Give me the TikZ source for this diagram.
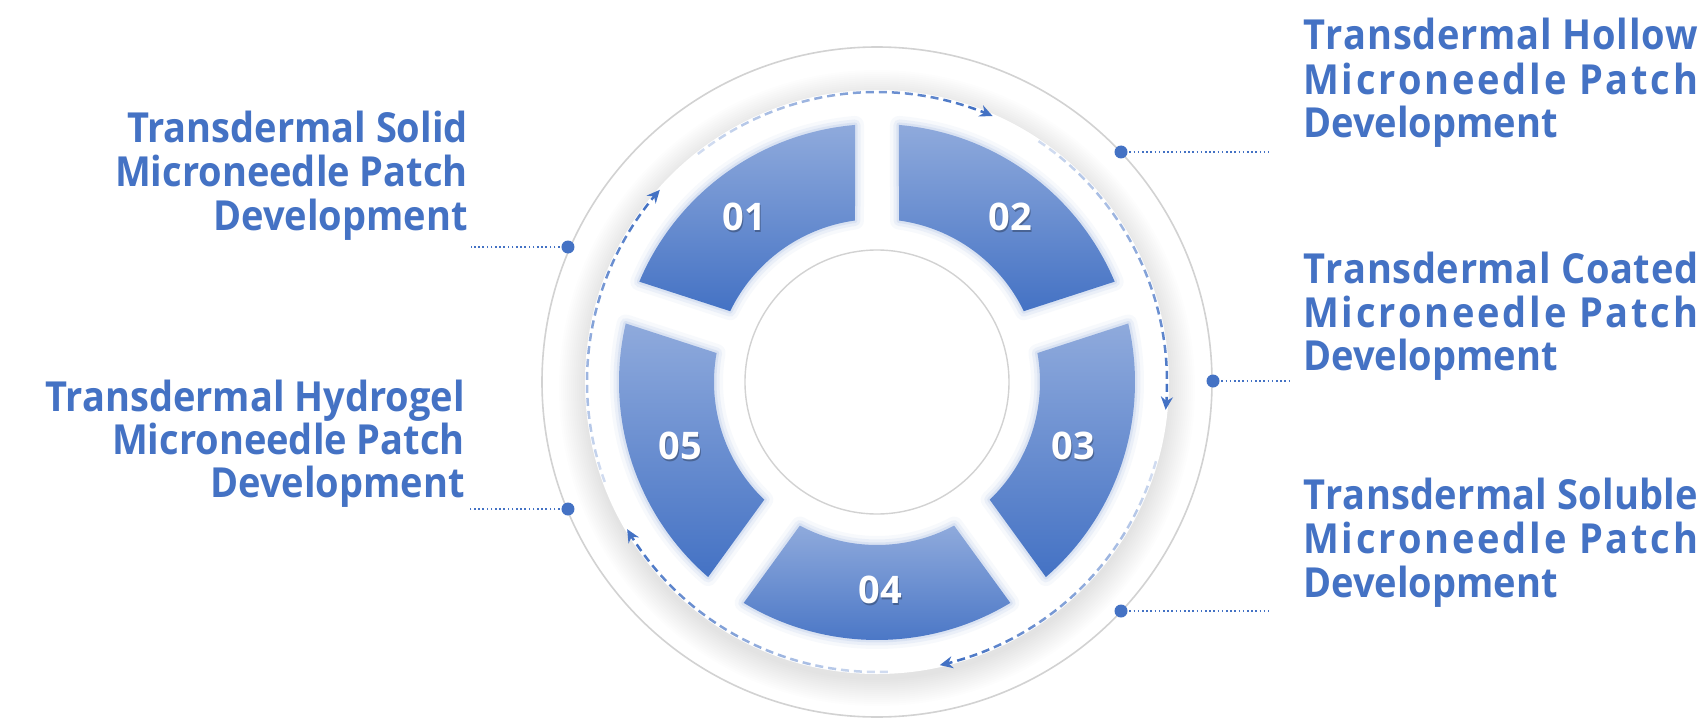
\documentclass[tikz,border=0pt]{standalone}
\usepackage{fontspec}
\setmainfont{Noto Sans}
\IfFontExistsTF{Noto Sans Bold}{\newfontfamily\boldfam{Noto Sans Bold}}{%
  \IfFontExistsTF{Open Sans Bold}{\newfontfamily\boldfam{Open Sans Bold}}{%
    \IfFontExistsTF{Lato Bold}{\newfontfamily\boldfam{Lato Bold}}{%
      \newfontfamily\boldfam{DejaVu Sans Bold}}}}
\usetikzlibrary{arrows.meta}
\definecolor{tblue}{HTML}{4472C4}
\definecolor{seglight}{HTML}{8FAADC}
\definecolor{segdark}{HTML}{4472C4}
\definecolor{ringgray}{HTML}{D2D2D2}
\definecolor{glowblue}{HTML}{B4C7E7}
\newcommand\lblfont{\boldfam\fontsize{38}{44}\selectfont}
\newcommand\numfont{\boldfam\fontsize{38}{44}\selectfont}
\newcommand\tall[1]{\scalebox{1}[1.09]{#1}}
\makeatletter
\def\sprletters#1{\spr@a#1\@nil}
\def\spr@a#1{\ifx#1\@nil\else#1\hskip0pt plus 1fil\relax\expandafter\spr@a\fi}
\makeatother
\newcommand\spreadline[3]{\makebox[#1][s]{\sprletters{#2}\unskip\hskip .26em plus 1fil\relax\sprletters{#3}\unskip}}
\newcommand\segshape[1]{%
  ({#1+4.89}:258) arc[start angle={#1+4.89}, end angle={#1+72-4.89}, radius=258]
  -- ({#1+72-7.76}:163) arc[start angle={#1+72-7.76}, end angle={#1+7.76}, radius=163] -- cycle}
\newcommand\dasharc[1]{%
  \foreach \i in {0,...,11}{%
    \pgfmathsetmacro\aS{#1+61.65-\i*5.1375}%
    \pgfmathsetmacro\aE{\aS-5.1375}%
    \pgfmathsetmacro\op{0.25+0.75*(\i/11)}%
    \ifnum\i=11
      \draw[darc, draw opacity=\op, -{Stealth[length=13pt,width=12pt]}] (\aS:290) arc[start angle=\aS, end angle=\aE, radius=290];
    \else
      \draw[darc, draw opacity=\op] (\aS:290) arc[start angle=\aS, end angle=\aE, radius=290];
    \fi
  }}
\begin{document}
\begin{tikzpicture}[x=1pt,y=1pt,
  lbl/.style={text=tblue, font=\lblfont, inner sep=0pt},
  numlbl/.style={text=white, font=\numfont, inner sep=0pt},
  numshadow/.style={text=black, opacity=0.28, font=\numfont, inner sep=0pt},
  dotnode/.style={circle, fill=tblue, minimum size=13pt, inner sep=0pt},
  dotline/.style={tblue, line width=1.6pt, dash pattern=on 1.6pt off 2.6pt},
  seg/.style={top color=seglight, bottom color=segdark, draw=none},
  segglow/.style={draw=glowblue, line join=round},
  ring/.style={draw=ringgray, line width=1.6pt},
  darc/.style={tblue, line width=2.5pt, dash pattern=on 8pt off 5pt},
]
\fill[white] (-877,-336) rectangle (822,382);
\useasboundingbox (-877,-336) rectangle (822,382);
% soft shadow disc
\foreach \k in {0,...,13}{\fill[black, opacity=0.006] (0,-6) circle[radius=292+2*\k];}
\fill[white] (0,0) circle[radius=292];
% outer ring
\draw[ring] (0,0) circle[radius=335];
% segments
\foreach \a in {90,18,-54,-126,162}{
  \draw[segglow, line width=18pt, opacity=0.10] \segshape{\a};
  \draw[segglow, line width=11pt, opacity=0.18] \segshape{\a};
  \draw[segglow, line width=5pt, opacity=0.30] \segshape{\a};
  \path[seg] \segshape{\a};
}
% inner circle
\draw[ring, line width=1.4pt] (0,0) circle[radius=132];
% numbers
\node[numshadow] at (-131.5,163.5) {01};
\node[numlbl] (n01) at (-133,165) {01};
\node[numshadow] at (134.5,163.5) {02};
\node[numlbl] (n02) at (133,165) {02};
\node[numshadow] at (197.5,-65.5) {03};
\node[numlbl] (n03) at (196,-64) {03};
\node[numshadow] at (4.5,-209.5) {04};
\node[numlbl] (n04) at (3,-208) {04};
\node[numshadow] at (-195.5,-65.5) {05};
\node[numlbl] (n05) at (-197,-64) {05};
% dashed arrows
\dasharc{138.5}
\dasharc{66.5}
\dasharc{-5.5}
\dasharc{-77.5}
\dasharc{-149.5}
% dots and leaders
\node[dotnode] (dtl) at (-309,135) {};
\node[dotnode] (dbl) at (-309,-127) {};
\node[dotnode] (dtr) at (244,230) {};
\node[dotnode] (dmr) at (336,1) {};
\node[dotnode] (dbr) at (244,-229) {};
\coordinate (etl) at (-406,135);
\coordinate (ebl) at (-407,-127);
\coordinate (etr) at (392,230);
\coordinate (emr) at (414,1);
\coordinate (ebr) at (392,-229);
\draw[dotline] (dtl.center) -- (etl);
\draw[dotline] (dbl.center) -- (ebl);
\draw[dotline] (dtr.center) -- (etr);
\draw[dotline] (dmr.center) -- (emr);
\draw[dotline] (dbr.center) -- (ebr);
% left labels
\node[lbl, anchor=base east] (tl1) at (-409,239) {\tall{Transdermal Solid}};
\node[lbl, anchor=base east] (tl2) at (-409,195) {\tall{Microneedle Patch}};
\node[lbl, anchor=base east] (tl3) at (-409,152) {\tall{Development}};
\node[lbl, anchor=base east] (bl1) at (-412,-29) {\tall{Transdermal Hydrogel}};
\node[lbl, anchor=base east] (bl2) at (-412,-72) {\tall{Microneedle Patch}};
\node[lbl, anchor=base east] (bl3) at (-412,-115) {\tall{Development}};
% right labels
\node[lbl, anchor=base west] (tr1) at (426,332) {\tall{\spreadline{395pt}{Transdermal}{Hollow}}};
\node[lbl, anchor=base west] (tr2) at (426,287) {\tall{\spreadline{395pt}{Microneedle}{Patch}}};
\node[lbl, anchor=base west] (tr3) at (426,244) {\tall{Development}};
\node[lbl, anchor=base west] (mr1) at (426,99) {\tall{\spreadline{395pt}{Transdermal}{Coated}}};
\node[lbl, anchor=base west] (mr2) at (426,55) {\tall{\spreadline{395pt}{Microneedle}{Patch}}};
\node[lbl, anchor=base west] (mr3) at (426,12) {\tall{Development}};
\node[lbl, anchor=base west] (br1) at (426,-127) {\tall{\spreadline{395pt}{Transdermal}{Soluble}}};
\node[lbl, anchor=base west] (br2) at (426,-171) {\tall{\spreadline{395pt}{Microneedle}{Patch}}};
\node[lbl, anchor=base west] (br3) at (426,-215) {\tall{Development}};
\end{tikzpicture}
\end{document}
